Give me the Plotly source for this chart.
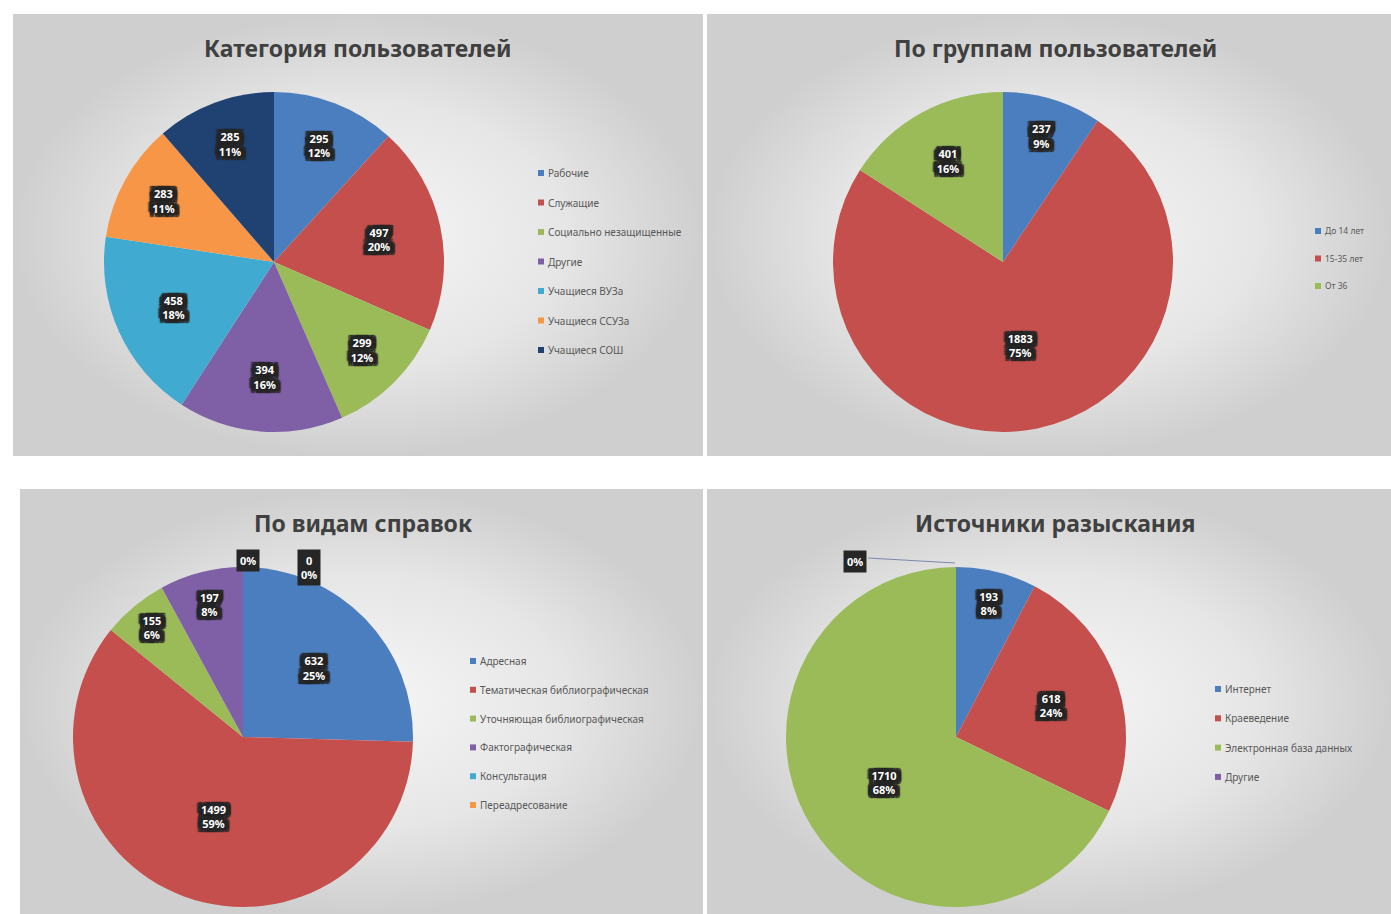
import plotly.graph_objects as go

W, H = 1391, 914

# ---------------- data ----------------
titles = ["Категория пользователей", "По группам пользователей",
          "По видам справок", "Источники разыскания"]

cat1 = ["Рабочие", "Служащие", "Социально незащищенные", "Другие",
        "Учащиеся ВУЗа", "Учащиеся ССУЗа", "Учащиеся СОШ"]
val1 = [295, 497, 299, 394, 458, 283, 285]
pct1 = ["12%", "20%", "12%", "16%", "18%", "11%", "11%"]

cat2 = ["До 14 лет", "15-35 лет", "От 36"]
val2 = [237, 1883, 401]
pct2 = ["9%", "75%", "16%"]

cat3 = ["Адресная", "Тематическая библиографическая", "Уточняющая библиографическая",
        "Фактографическая", "Консультация", "Переадресование"]
val3 = [632, 1499, 155, 197, 0, 0]
pct3 = ["25%", "59%", "6%", "8%", "0%", "0%"]

cat4 = ["Интернет", "Краеведение", "Электронная база данных", "Другие"]
val4 = [193, 618, 1710, 0]
pct4 = ["8%", "24%", "68%", "0%"]

# ---------------- styles ----------------
BLUE, RED, GREEN, PURPLE = "#4a7ebf", "#c44f4c", "#9bbb59", "#7f5fa6"
CYAN, ORANGE, NAVY = "#40aad0", "#f79646", "#1f4272"
col1 = [BLUE, RED, GREEN, PURPLE, CYAN, ORANGE, NAVY]
col2 = [BLUE, RED, GREEN]
col3 = [BLUE, RED, GREEN, PURPLE, CYAN, ORANGE]
col4 = [BLUE, RED, GREEN, PURPLE]

FONT = "Noto Sans"
DARK = "#262626"
SHADOW = ", ".join([f"{dx}px {dy}px 1px {DARK}" for dx in (-5, -3, 0, 3, 5) for dy in (-4, -2, 0, 2, 4)])

# panel rectangles in pixels (x0, y0, x1, y1)
panels = [(13, 14, 703, 456), (707, 14, 1391, 456), (20, 489, 703, 914), (707, 489, 1391, 914)]
pie_centers = [(274, 262), (1003, 262), (243, 737), (956, 737)]
R = 170
title_pos = [(358, 48), (1055, 48), (363, 523), (1055, 523)]
legend_pos = [(541, 173, 29.5, 10), (1318, 231, 27.5, 8.5), (473, 661, 28.8, 10), (1218, 689, 29.3, 10)]
legend_box = [(528, 155, 698, 366), (1306, 214, 1391, 302), (462, 642, 700, 822), (1205, 672, 1391, 792)]

fig = go.Figure()

# panel backgrounds (radial gradient)
for (x0, y0, x1, y1) in panels:
    fig.add_trace(go.Scatter(
        x=[x0, x1, x1, x0, x0], y=[y0, y0, y1, y1, y0], mode="lines",
        line=dict(width=0), fill="toself", hoverinfo="skip", showlegend=False,
        fillgradient=dict(type="radial", colorscale=[[0, "#f6f6f6"], [0.6, "#e6e6e6"], [1, "#cfcfcf"]]),
    ))

def px2paper(cx, cy, r):
    return dict(x=[(cx - r) / W, (cx + r) / W], y=[1 - (cy + r) / H, 1 - (cy - r) / H])

datasets = [(cat1, val1, col1, pct1), (cat2, val2, col2, pct2),
            (cat3, val3, col3, pct3), (cat4, val4, col4, pct4)]
for i, (cats, vals, cols, pcts) in enumerate(datasets):
    cx, cy = pie_centers[i]
    fig.add_trace(go.Pie(
        labels=cats, values=vals, text=pcts, sort=False, direction="clockwise", rotation=0,
        marker=dict(colors=cols, line=dict(width=0)),
        domain=px2paper(cx, cy, R),
        texttemplate="%{value}<br>%{text}", textposition="inside",
        insidetextorientation="horizontal",
        textfont=dict(family=FONT, size=11, color="white", weight="bold", shadow=SHADOW),
        showlegend=False, hole=0,
    ))

annotations = []
shapes = []
# titles
for t, (x, y) in zip(titles, title_pos):
    annotations.append(dict(text=t, x=x / W, y=1 - y / H, xref="paper", yref="paper",
                            showarrow=False, xanchor="center", yanchor="middle",
                            font=dict(family=FONT, size=23, color="#404040", weight="bold")))

# manual legends
for i, (cats, vals, cols, pcts) in enumerate(datasets):
    bx0, by0, bx1, by1 = legend_box[i]
    shapes.append(dict(type="rect", xref="paper", yref="paper", x0=bx0 / W, x1=bx1 / W,
                       y0=1 - by1 / H, y1=1 - by0 / H, fillcolor="rgba(255,255,255,0.30)",
                       line=dict(width=0), layer="below"))
    lx, ly, dy, fs = legend_pos[i]
    for k, (c, col) in enumerate(zip(cats, cols)):
        yy = ly + k * dy
        shapes.append(dict(type="rect", xref="paper", yref="paper",
                           x0=(lx - 3) / W, x1=(lx + 3) / W, y0=1 - (yy + 3) / H, y1=1 - (yy - 3) / H,
                           fillcolor=col, line=dict(width=0)))
        annotations.append(dict(text=c, x=(lx + 5) / W, y=1 - yy / H, xref="paper", yref="paper",
                                showarrow=False, xanchor="left", yanchor="middle",
                                font=dict(family=FONT, size=fs, color="#595959")))

# labels for zero-valued slices (not drawn by the pie)
def zlabel(text, x, y):
    annotations.append(dict(text=text, x=x / W, y=1 - y / H, xref="paper", yref="paper",
                            showarrow=False, bgcolor=DARK, borderpad=3,
                            font=dict(family=FONT, size=11, color="white", weight="bold")))

zlabel(f"{val3[4]}<br>{pct3[4]}", 297, 567)
zlabel(pct3[5], 236, 560)
shapes.append(dict(type="line", xref="paper", yref="paper", x0=868 / W, y0=1 - 558 / H,
                   x1=955 / W, y1=1 - 563 / H, line=dict(color="#7a8aa8", width=1)))
zlabel(pct4[3], 855, 561)

fig.update_layout(
    width=W, height=H, margin=dict(l=0, r=0, t=0, b=0),
    paper_bgcolor="white", plot_bgcolor="rgba(0,0,0,0)",
    xaxis=dict(range=[0, W], visible=False, fixedrange=True),
    yaxis=dict(range=[H, 0], visible=False, fixedrange=True),
    annotations=annotations, shapes=shapes,
)

fig.write_html("out.html", config={"displayModeBar": False},
               post_script="document.body.style.margin='0';document.body.style.padding='0';")
